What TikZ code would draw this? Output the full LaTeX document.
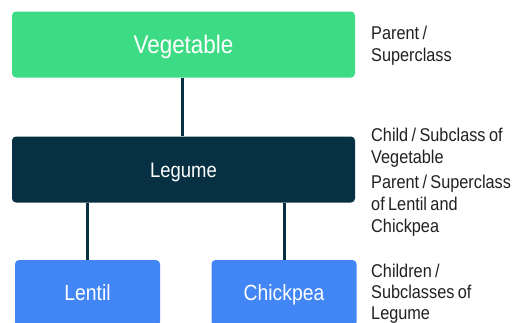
\documentclass[tikz,border=0pt]{standalone}
\usepackage{fontspec}
\setmainfont{Liberation Sans}[FakeStretch=0.88,WordSpace=0.75]
\definecolor{vegGreen}{HTML}{3DDC84}
\definecolor{legNavy}{HTML}{073042}
\definecolor{kidBlue}{HTML}{4285F4}
\definecolor{noteInk}{HTML}{202124}
\tikzset{
  classbox/.style={rounded corners=4pt, inner sep=0pt, text=white, text depth=0pt, text height=15.8pt, font=\fontsize{22}{24}\selectfont},
  note/.style={anchor=north west, align=left, inner sep=0pt, text=noteInk, font=\fontsize{18.5}{22}\selectfont},
  link/.style={draw=legNavy, line width=3pt}
}
\begin{document}
\begin{tikzpicture}[x=1pt,y=-1pt]
\clip (0,0) rectangle (512,322);
\fill[white] (0,0) rectangle (512,322);
\node[classbox, fill=vegGreen, minimum width=343pt, minimum height=66pt, text height=18.4pt, font=\fontsize{25.5}{27}\selectfont] (veg) at (183.5,44.5) {Vegetable};
\node[classbox, fill=legNavy, minimum width=343pt, minimum height=66pt, text height=15.1pt, font=\fontsize{21}{23}\selectfont] (leg) at (183.5,169.5) {Legume};
\node[classbox, fill=kidBlue, minimum width=145pt, minimum height=66pt] (lentil) at (87.5,293) {Lentil};
\node[classbox, fill=kidBlue, minimum width=145pt, minimum height=66pt] (chick) at (284,293) {Chickpea};
\draw[link] (veg.south -| 182,0) -- (leg.north -| 182,0);
\draw[link] (leg.south -| lentil) -- (lentil.north);
\draw[link] (leg.south -| chick) -- (chick.north);
\node[note] (vegnote) at (371,26.3) {Parent /\\Superclass};
\node[note] (legnote) at (371,128.2) {Child / Subclass of\\Vegetable};
\node[note] (legnote2) at (371,174.5) {Parent / Superclass\\of Lentil and\\Chickpea};
\node[note, font=\fontsize{18.5}{21}\selectfont] (kidnote) at (371,264) {Children /\\Subclasses of\\Legume};
\end{tikzpicture}
\end{document}
